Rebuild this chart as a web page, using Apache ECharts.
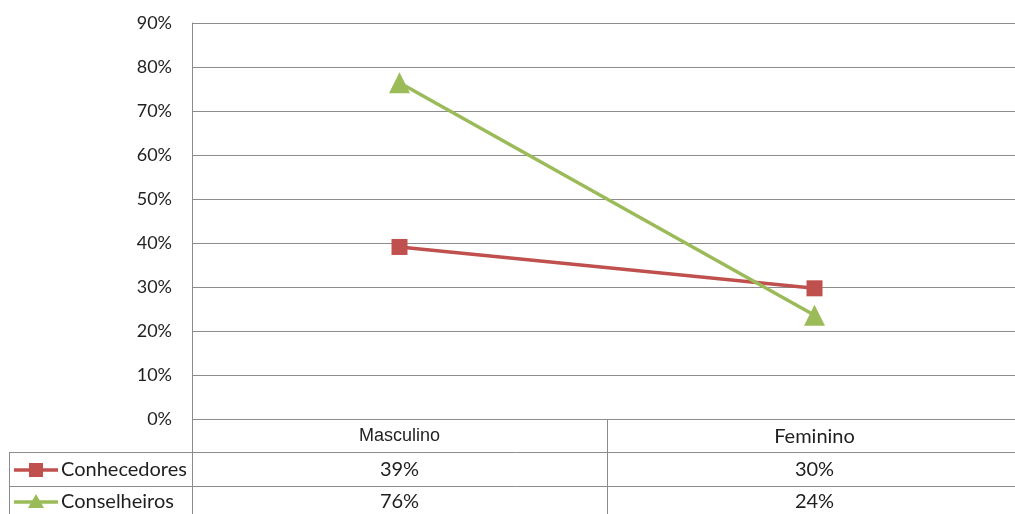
<!DOCTYPE html>
<html>
<head>
<meta charset="utf-8">
<script src="https://cdn.jsdelivr.net/npm/echarts@6/dist/echarts.min.js"></script>
<style>
  html, body { margin: 0; padding: 0; background: #fff; overflow: hidden; }
  #chart { width: 1022px; height: 514px; }
</style>
</head>
<body>
<div id="chart"></div>
<script>
const categories = ['Masculino', 'Feminino'];
const conhecedores = [0.391, 0.297];
const conselheiros = [0.764, 0.236];
const seriesNames = ['Conhecedores', 'Conselheiros'];
const yTicks = [0, 0.1, 0.2, 0.3, 0.4, 0.5, 0.6, 0.7, 0.8, 0.9];

const RED = '#c0504d';
const GREEN = '#9bbb59';
const GRID = '#8c8c8c';
const TEXT = '#1f1f1f';
const FONT = 'Lato, "Noto Sans", sans-serif';

// the plot runs a few pixels past the right edge of the window
const chart = echarts.init(document.getElementById('chart'));

const option = {
  animation: false,
  grid: { left: 192, top: 23, right: 0, bottom: 95 },
  xAxis: {
    type: 'category',
    data: categories,
    axisLine: { show: false },
    axisTick: { show: false },
    axisLabel: { show: false }
  },
  yAxis: {
    type: 'value',
    min: yTicks[0],
    max: yTicks[yTicks.length - 1],
    interval: 0.1,
    axisLine: { show: true, lineStyle: { color: GRID, width: 1 } },
    axisTick: { show: false },
    axisLabel: {
      margin: 20,
      color: TEXT,
      fontSize: 18,
      fontFamily: FONT,
      formatter: v => Math.round(v * 100) + '%'
    },
    splitLine: { lineStyle: { color: GRID, width: 1 } }
  },
  series: [{
    name: seriesNames[0],
    type: 'line',
    data: conhecedores,
    symbol: 'rect',
    symbolSize: 16,
    itemStyle: { color: RED },
    lineStyle: { color: RED, width: 3.5 }
  }, {
    name: seriesNames[1],
    type: 'line',
    data: conselheiros,
    symbol: 'triangle',
    symbolSize: 21,
    itemStyle: { color: GREEN },
    lineStyle: { color: GREEN, width: 3.5 }
  }]
};

chart.setOption(option);

// data table below the plot
const plotLeft = 192;
const tableLeft = 9;
const rowTop = [419, 452, 486, 520];
const right = 1022;
const colW = chart.convertToPixel({ xAxisIndex: 0 }, categories[1]) - chart.convertToPixel({ xAxisIndex: 0 }, categories[0]);
const lineStyle = { stroke: GRID, lineWidth: 1 };
const els = [];

function hline(x1, x2, y) {
  els.push({ type: 'line', shape: { x1: x1, y1: y + 0.5, x2: x2, y2: y + 0.5 }, style: lineStyle, silent: true });
}
function vline(x, y1, y2) {
  els.push({ type: 'line', shape: { x1: x + 0.5, y1: y1, x2: x + 0.5, y2: y2 }, style: lineStyle, silent: true });
}
function cellText(text, x, y, font) {
  els.push({
    type: 'text', x: x, y: y,
    style: { text: text, fill: TEXT, font: font || ('20px ' + FONT), textAlign: 'center', textVerticalAlign: 'middle' },
    silent: true
  });
}

hline(plotLeft, right, rowTop[0]);
hline(tableLeft, right, rowTop[1]);
hline(tableLeft, right, rowTop[2]);
vline(tableLeft, rowTop[1], rowTop[3]);
vline(plotLeft, rowTop[0], rowTop[3]);
vline(plotLeft + colW, rowTop[0], rowTop[3]);

categories.forEach((c, i) => {
  const cx = chart.convertToPixel({ xAxisIndex: 0 }, c);
  cellText(c, cx, (rowTop[0] + rowTop[1]) / 2 + 1,
    i === 0 ? '18px "Liberation Sans", Arial, sans-serif' : '20px ' + FONT);
  cellText(Math.round(conhecedores[i] * 100) + '%', cx, (rowTop[1] + rowTop[2]) / 2 + 1);
  cellText(Math.round(conselheiros[i] * 100) + '%', cx, (rowTop[2] + rowTop[3]) / 2 - 1);
});

// legend keys in the table
const keys = [
  { name: seriesNames[0], color: RED, y: (rowTop[1] + rowTop[2]) / 2 + 1, shape: 'rect' },
  { name: seriesNames[1], color: GREEN, y: (rowTop[2] + rowTop[3]) / 2 - 1, shape: 'tri' }
];
keys.forEach(k => {
  els.push({ type: 'line', shape: { x1: 14, y1: k.y, x2: 58, y2: k.y }, style: { stroke: k.color, lineWidth: 3.5 }, silent: true });
  if (k.shape === 'rect') {
    els.push({ type: 'rect', shape: { x: 29, y: k.y - 7, width: 14, height: 14 }, style: { fill: k.color }, silent: true });
  } else {
    els.push({ type: 'polygon', shape: { points: [[36, k.y - 8], [44, k.y + 6], [28, k.y + 6]] }, style: { fill: k.color }, silent: true });
  }
  els.push({
    type: 'text', x: 61, y: k.y,
    style: { text: k.name, fill: TEXT, font: '20px ' + FONT, textAlign: 'left', textVerticalAlign: 'middle' },
    silent: true
  });
});

chart.setOption({ graphic: { elements: els } });
</script>
</body>
</html>
